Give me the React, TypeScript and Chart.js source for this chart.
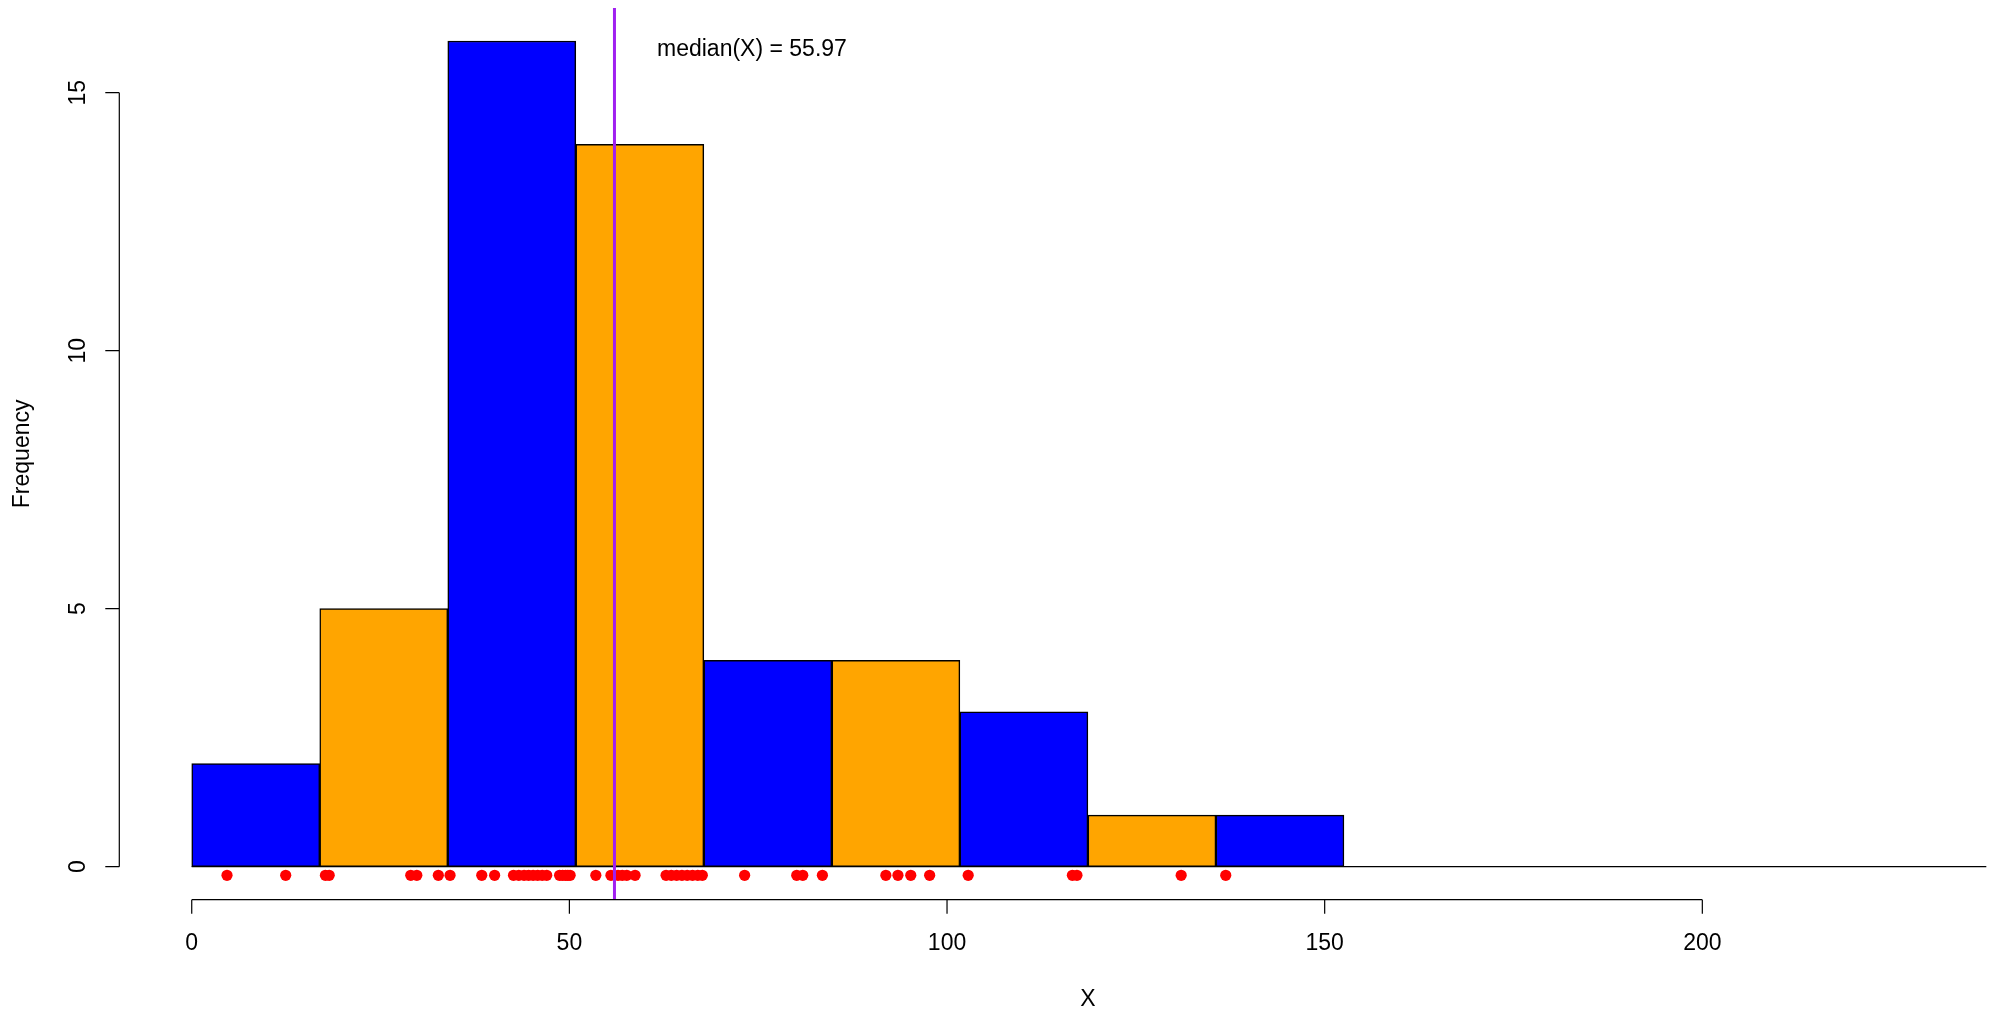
import React, { useEffect, useRef } from "react";
import { Chart, registerables } from "chart.js";

Chart.register(...registerables);

// ---- Data ----
const BREAKS = [0, 16.95, 33.9, 50.85, 67.8, 84.75, 101.7, 118.65, 135.6, 152.55];
const COUNTS = [2, 5, 16, 14, 4, 4, 3, 1, 1];
const BAR_COLORS = ["#0000FF", "#FFA500"];
const X_VALUES = [
  4.67, 12.44, 17.7, 18.2, 29.0, 29.8, 32.65,
  34.2, 38.4, 40.1, 42.6, 43.3, 44.0, 44.6, 45.2, 45.8, 46.4, 47.0, 48.7, 49.1, 49.5, 49.8, 50.1,
  53.5, 55.5, 56.44, 57.0, 57.6, 58.7, 62.8, 63.5, 64.2, 64.9, 65.6, 66.3, 67.0, 67.6,
  73.2, 80.1, 80.9, 83.5,
  91.9, 93.5, 95.2, 97.7,
  102.8, 116.6, 117.2,
  131.0,
  136.9,
];
const MEDIAN = 55.97;
const MEDIAN_LABEL = "median(X) = 55.97";
const X_TICKS = [0, 50, 100, 150, 200];
const Y_TICKS = [0, 5, 10, 15];
const X_TITLE = "X";
const Y_TITLE = "Frequency";

// ranges
const X_MIN = -9.59;
const X_MAX = 238.75;
const Y_MIN = -0.64;
const Y_MAX = 16.64;
const RUG_LEVEL = -0.167;
const BASELINE_END = 237.6;
const LABEL_POS = { x: 61.6, y: 15.83 };

const FONT = "23px 'Liberation Sans', Arial, sans-serif";

const axesPlugin = {
  id: "rAxes",
  afterDraw(chart: any) {
    const ctx = chart.ctx;
    const xs = chart.scales.x;
    const ys = chart.scales.y;
    const area = chart.chartArea;
    ctx.save();
    ctx.strokeStyle = "#000";
    ctx.fillStyle = "#000";
    ctx.lineWidth = 1.2;
    ctx.font = FONT;

    // x axis
    const axY = area.bottom;
    const x0 = xs.getPixelForValue(X_TICKS[0]);
    const x1 = xs.getPixelForValue(X_TICKS[X_TICKS.length - 1]);
    ctx.beginPath();
    ctx.moveTo(x0, axY);
    ctx.lineTo(x1, axY);
    X_TICKS.forEach((t) => {
      const px = xs.getPixelForValue(t);
      ctx.moveTo(px, axY);
      ctx.lineTo(px, axY + 14);
    });
    ctx.stroke();
    ctx.textAlign = "center";
    ctx.textBaseline = "middle";
    X_TICKS.forEach((t) => {
      ctx.fillText(String(t), xs.getPixelForValue(t), axY + 44);
    });
    ctx.fillText(X_TITLE, 1088, 1000);

    // y axis
    const axX = area.left;
    const y0 = ys.getPixelForValue(Y_TICKS[0]);
    const y1 = ys.getPixelForValue(Y_TICKS[Y_TICKS.length - 1]);
    ctx.beginPath();
    ctx.moveTo(axX, y0);
    ctx.lineTo(axX, y1);
    Y_TICKS.forEach((t) => {
      const py = ys.getPixelForValue(t);
      ctx.moveTo(axX, py);
      ctx.lineTo(axX - 14, py);
    });
    ctx.stroke();
    Y_TICKS.forEach((t) => {
      ctx.save();
      ctx.translate(axX - 41, ys.getPixelForValue(t));
      ctx.rotate(-Math.PI / 2);
      ctx.fillText(String(t), 0, 0);
      ctx.restore();
    });
    ctx.save();
    ctx.translate(23, (area.top + area.bottom) / 2);
    ctx.rotate(-Math.PI / 2);
    ctx.fillText(Y_TITLE, 0, 0);
    ctx.restore();

    // median label
    ctx.textAlign = "left";
    ctx.fillText(MEDIAN_LABEL, xs.getPixelForValue(LABEL_POS.x), ys.getPixelForValue(LABEL_POS.y));
    ctx.restore();
  },
};

export default function App() {
  const ref = useRef<HTMLCanvasElement | null>(null);
  useEffect(() => {
    if (!ref.current) return;
    const bars = COUNTS.map((c, i) => ({ x: (BREAKS[i] + BREAKS[i + 1]) / 2, y: c }));
    const chart = new Chart(ref.current, {
      type: "bar",
      data: {
        datasets: [
          {
            type: "bar",
            data: bars as any,
            backgroundColor: COUNTS.map((_, i) => BAR_COLORS[i % 2]),
            borderColor: "#000",
            borderWidth: 1.5,
            borderSkipped: false,
            barPercentage: 1,
            categoryPercentage: 1,
            order: 4,
          } as any,
          {
            type: "line",
            data: [
              { x: BREAKS[0], y: 0 },
              { x: BASELINE_END, y: 0 },
            ],
            borderColor: "#000",
            borderWidth: 1.2,
            pointRadius: 0,
            order: 3,
          } as any,
          {
            type: "line",
            data: X_VALUES.map((v) => ({ x: v, y: RUG_LEVEL })),
            showLine: false,
            pointRadius: 5.6,
            pointBackgroundColor: "#FF0000",
            pointBorderWidth: 0,
            borderWidth: 0,
            order: 2,
          } as any,
          {
            type: "line",
            data: [
              { x: MEDIAN, y: Y_MIN },
              { x: MEDIAN, y: Y_MAX },
            ],
            borderColor: "#A020F0",
            borderWidth: 3,
            pointRadius: 0,
            order: 1,
          } as any,
        ],
      },
      options: {
        responsive: false,
        animation: false,
        devicePixelRatio: 1,
        layout: { autoPadding: false, padding: { left: 119.3, right: 0, top: 8, bottom: 116.3 } },
        plugins: { legend: { display: false }, tooltip: { enabled: false } },
        scales: {
          x: {
            type: "linear",
            min: X_MIN,
            max: X_MAX,
            display: false,
            offset: false,
            afterBuildTicks: (s: any) => {
              s.ticks = X_TICKS.map((v) => ({ value: v }));
            },
          },
          y: { type: "linear", min: Y_MIN, max: Y_MAX, display: false },
        },
      } as any,
      plugins: [axesPlugin],
    });
    return () => chart.destroy();
  }, []);
  return (
    <div style={{ position: "fixed", left: 0, top: 0, width: 1995, height: 1016, background: "#fff" }}>
      <canvas ref={ref} width={1995} height={1016} style={{ width: 1995, height: 1016, display: "block" }} />
    </div>
  );
}
